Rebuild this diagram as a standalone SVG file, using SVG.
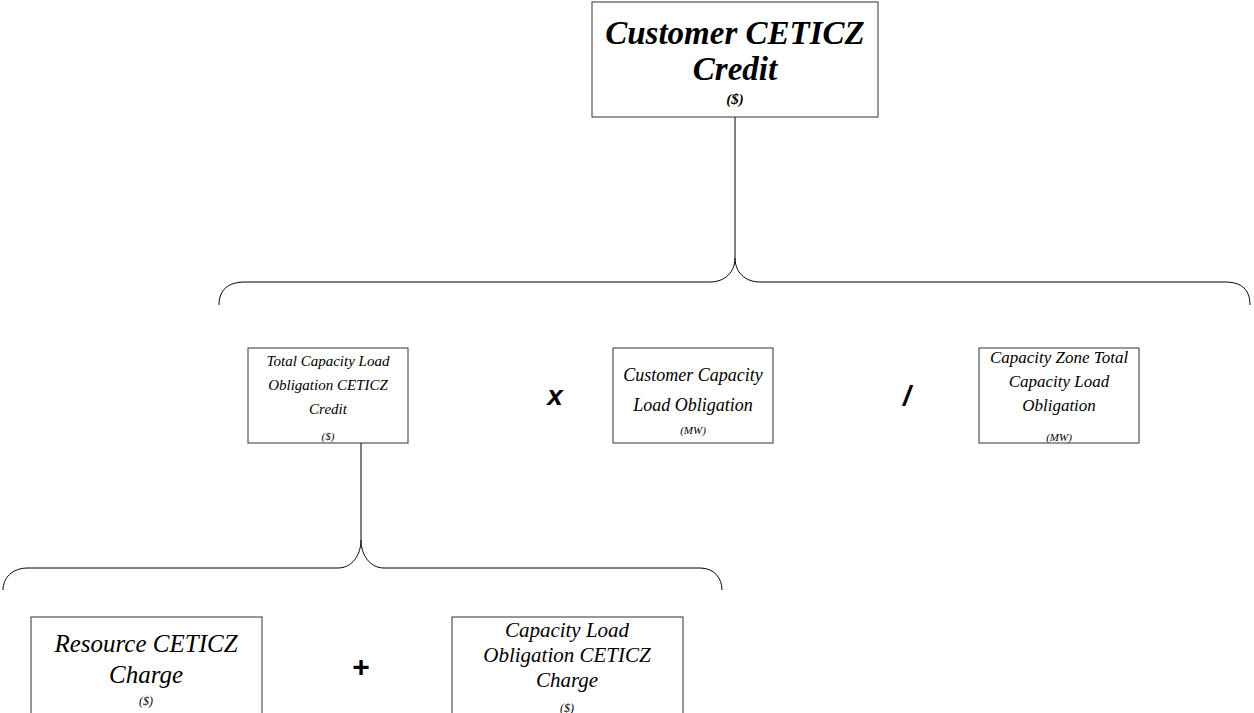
<svg xmlns="http://www.w3.org/2000/svg" width="1254" height="713" viewBox="0 0 1254 713">
<style>
.box{fill:#fff;stroke:#333;stroke-width:1}
.t{font-family:"Liberation Serif","DejaVu Serif",serif;font-style:italic;text-anchor:middle;fill:#000}
.b{font-weight:bold}
.op{font-family:"Liberation Sans",Arial,sans-serif;font-weight:bold;text-anchor:middle;fill:#000}
.c{fill:none;stroke:#000;stroke-width:1}
</style>
<rect width="1254" height="713" fill="#fff"/>
<g id="connectors">
<path class="c" d="M735,117 L735,258"/>
<path class="c" d="M219,305 C219,290 228,282 245,282 L710,282 C725,282 735,272 735,258 C735,272 745,282 760,282 L1225,282 C1242,282 1250,290 1250,305"/>
<path class="c" d="M361,443 L361,540"/>
<path class="c" d="M3,590 C3,578 12,568 28,568 L338,568 C352,568 361,555 361,540 C361,555 370,568 384,568 L700,568 C714,568 722,578 722,590"/>
</g>
<g id="n-customer-credit">
<rect class="box" x="592" y="2" width="286" height="115"/>
<text class="t b" x="735" y="44" font-size="33">Customer CETICZ</text>
<text class="t b" x="735" y="80" font-size="33">Credit</text>
<text class="t b" x="735" y="104" font-size="15">($)</text>
</g>
<g id="n-total-clo-credit">
<rect class="box" x="248" y="348" width="160" height="95"/>
<text class="t" x="328" y="366" font-size="15">Total Capacity Load</text>
<text class="t" x="328" y="390" font-size="15">Obligation CETICZ</text>
<text class="t" x="328" y="414" font-size="15">Credit</text>
<text class="t" x="328" y="440" font-size="11">($)</text>
</g>
<text class="op" x="555" y="405" font-size="28" font-style="italic">x</text>
<g id="n-customer-clo">
<rect class="box" x="613" y="348" width="160" height="95"/>
<text class="t" x="693" y="381" font-size="18">Customer Capacity</text>
<text class="t" x="693" y="411" font-size="18">Load Obligation</text>
<text class="t" x="693" y="434" font-size="11">(MW)</text>
</g>
<text class="op" x="907" y="405" font-size="28" font-style="italic">/</text>
<g id="n-zone-total-clo">
<rect class="box" x="979" y="348" width="160" height="95"/>
<text class="t" x="1059" y="363" font-size="17">Capacity Zone Total</text>
<text class="t" x="1059" y="387" font-size="17">Capacity Load</text>
<text class="t" x="1059" y="411" font-size="17">Obligation</text>
<text class="t" x="1059" y="441" font-size="11">(MW)</text>
</g>
<g id="n-resource-charge">
<rect class="box" x="31" y="617" width="231" height="110"/>
<text class="t" x="146" y="652" font-size="25">Resource CETICZ</text>
<text class="t" x="146" y="683" font-size="25">Charge</text>
<text class="t" x="146" y="705" font-size="12">($)</text>
</g>
<text class="op" x="361" y="677" font-size="30">+</text>
<g id="n-clo-charge">
<rect class="box" x="452" y="617" width="231" height="110"/>
<text class="t" x="567" y="637" font-size="21">Capacity Load</text>
<text class="t" x="567" y="662" font-size="21">Obligation CETICZ</text>
<text class="t" x="567" y="687" font-size="21">Charge</text>
<text class="t" x="567" y="712" font-size="12">($)</text>
</g>
</svg>
